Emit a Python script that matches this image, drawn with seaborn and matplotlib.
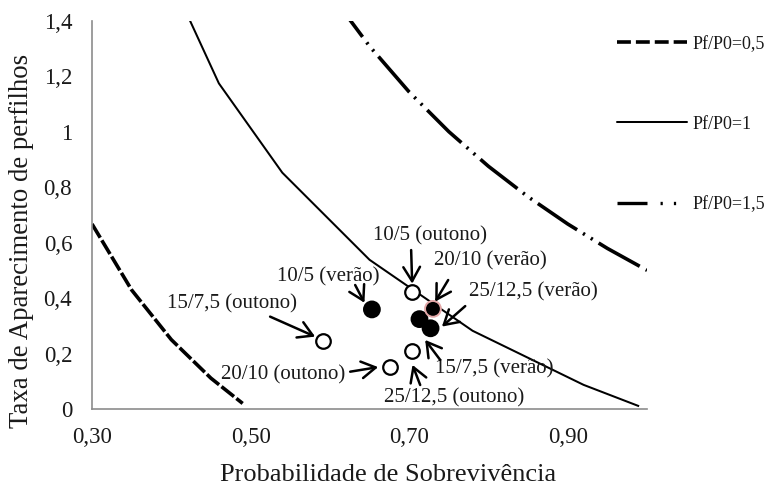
import matplotlib
matplotlib.use("Agg")
import matplotlib.pyplot as plt
from matplotlib.lines import Line2D
import seaborn as sns
import pandas as pd

# Iso-lines of tiller population stability (Pf/P0)
x_half = [0.30, 0.35, 0.40, 0.45, 0.49]
y_half = [0.667, 0.429, 0.250, 0.111, 0.020]

x_one = [0.35, 0.46, 0.54, 0.65, 0.78, 0.92, 0.99]
y_one = [1.857, 1.174, 0.852, 0.538, 0.282, 0.087, 0.010]

x_onehalf = [0.60, 0.65, 0.70, 0.75, 0.80, 0.85, 0.90, 0.95, 1.00]
y_onehalf = [1.500, 1.308, 1.143, 1.000, 0.875, 0.765, 0.667, 0.579, 0.500]

# Treatments: autumn (open circles) and summer (filled circles)
outono_labels = ["10/5 (outono)", "15/7,5 (outono)", "20/10 (outono)", "25/12,5 (outono)"]
outono_surv = [0.704, 0.591, 0.676, 0.703]
outono_tap = [0.421, 0.245, 0.153, 0.209]

verao_labels = ["10/5 (verão)", "15/7,5 (verão)", "20/10 (verão)", "25/12,5 (verão)"]
verao_surv = [0.653, 0.713, 0.730, 0.727]
verao_tap = [0.359, 0.324, 0.361, 0.291]
verao_edges = ["black", "black", "#e3a8a8", "black"]

legend_labels = ["Pf/P0=0,5", "Pf/P0=1", "Pf/P0=1,5"]
x_ticks = [0.30, 0.50, 0.70, 0.90]
x_ticklabels = ["0,30", "0,50", "0,70", "0,90"]
y_ticks = [0, 0.2, 0.4, 0.6, 0.8, 1.0, 1.2, 1.4]
y_ticklabels = ["0", "0,2", "0,4", "0,6", "0,8", "1", "1,2", "1,4"]

# label text position, arrow tail, arrow tip (data units)
label_text_pos = {
    "10/5 (outono)": (0.7265, 0.623),
    "20/10 (verão)": (0.8022, 0.533),
    "25/12,5 (verão)": (0.8565, 0.422),
    "10/5 (verão)": (0.5978, 0.476),
    "15/7,5 (outono)": (0.4767, 0.378),
    "20/10 (outono)": (0.541, 0.123),
    "15/7,5 (verão)": (0.8073, 0.144),
    "25/12,5 (outono)": (0.7568, 0.040),
}
arrow_pos = {
    "10/5 (outono)": ((0.7025, 0.573), (0.7038, 0.452)),
    "20/10 (verão)": ((0.7492, 0.465), (0.7328, 0.387)),
    "25/12,5 (verão)": ((0.7707, 0.371), (0.7413, 0.297)),
    "10/5 (verão)": ((0.6319, 0.447), (0.6436, 0.383)),
    "15/7,5 (outono)": ((0.5246, 0.333), (0.5814, 0.261)),
    "20/10 (outono)": ((0.6256, 0.1345), (0.6609, 0.151)),
    "15/7,5 (verão)": ((0.7391, 0.177), (0.7202, 0.249)),
    "25/12,5 (outono)": ((0.7139, 0.0865), (0.7042, 0.159)),
}

sns.set_theme(style="white")
plt.rcParams["font.family"] = ["Liberation Serif", "DejaVu Serif"]
plt.rcParams["lines.scale_dashes"] = False
TEXT = "#1a1a1a"
GRAY = "#8c8c8c"

fig = plt.figure(figsize=(7.7, 4.88), dpi=100)
ax = fig.add_axes([0.1195, 0.1619, 0.7208, 0.7957])

curves = pd.concat([
    pd.DataFrame({"x": x_half, "y": y_half, "curve": legend_labels[0]}),
    pd.DataFrame({"x": x_one, "y": y_one, "curve": legend_labels[1]}),
    pd.DataFrame({"x": x_onehalf, "y": y_onehalf, "curve": legend_labels[2]}),
])

styles = {
    legend_labels[0]: dict(lw=2.6, ls=(0, (11.5, 2.2))),
    legend_labels[1]: dict(lw=1.45, ls="-"),
    legend_labels[2]: dict(lw=2.6, ls=(0, (34, 5, 1.6, 5, 1.6, 5))),
}
for name, st in styles.items():
    sub = curves[curves["curve"] == name]
    sns.lineplot(data=sub, x="x", y="y", ax=ax, color="black", sort=False,
                 estimator=None, linewidth=st["lw"], linestyle=st["ls"],
                 solid_capstyle="butt", dash_capstyle="butt", legend=False)

sns.scatterplot(x=outono_surv, y=outono_tap, ax=ax, s=110, color="white",
                edgecolor="black", linewidth=1.6, zorder=5, legend=False)
sns.scatterplot(x=verao_surv, y=verao_tap, ax=ax, s=130, color="black",
                edgecolor=verao_edges, linewidth=1.4, zorder=5, legend=False)

for lab, (tx, ty) in label_text_pos.items():
    ax.text(tx, ty, lab, ha="center", va="center", fontsize=15, color=TEXT, zorder=6)
    tail, tip = arrow_pos[lab]
    ax.annotate("", xy=tip, xytext=tail,
                arrowprops=dict(arrowstyle="->,head_length=0.85,head_width=0.5",
                                color="black", lw=1.8, shrinkA=0, shrinkB=0),
                zorder=6)

ax.set_xlim(0.30, 1.00)
ax.set_ylim(0, 1.4)
ax.set_xticks(x_ticks)
ax.set_xticklabels(x_ticklabels)
ax.set_yticks(y_ticks)
ax.set_yticklabels(y_ticklabels)
ax.tick_params(axis="both", direction="out", length=4.3, width=1, color=GRAY,
               labelsize=16.5, labelcolor=TEXT)
ax.tick_params(axis="y", pad=10)
ax.tick_params(axis="x", pad=9)
for side in ["top", "right"]:
    ax.spines[side].set_visible(False)
for side in ["left", "bottom"]:
    ax.spines[side].set_color(GRAY)
    ax.spines[side].set_linewidth(1.2)

ax.set_xlabel("Probabilidade de Sobrevivência", fontsize=19, color=TEXT)
ax.set_ylabel("Taxa de Aparecimento de perfilhos", fontsize=19.3, color=TEXT)
ax.xaxis.set_label_coords(0.533, -0.142)
ax.yaxis.set_label_coords(-0.104, 0.432)

handles = [
    Line2D([], [], color="black", lw=2.6, ls=(0, (10, 3.6)), dash_capstyle="butt"),
    Line2D([], [], color="black", lw=1.45, ls="-"),
    Line2D([], [], color="black", lw=2.4, ls=(0, (21.6, 9.4, 1.6, 8, 1.6, 9)),
           dash_capstyle="butt"),
]
fig.legend(handles, legend_labels, loc="upper left", bbox_to_anchor=(0.801, 0.927),
           frameon=False, fontsize=13, handlelength=3.9, handletextpad=0.28,
           labelspacing=3.5, borderpad=0, borderaxespad=0, labelcolor=TEXT)

fig.savefig("out.png", dpi=100)
